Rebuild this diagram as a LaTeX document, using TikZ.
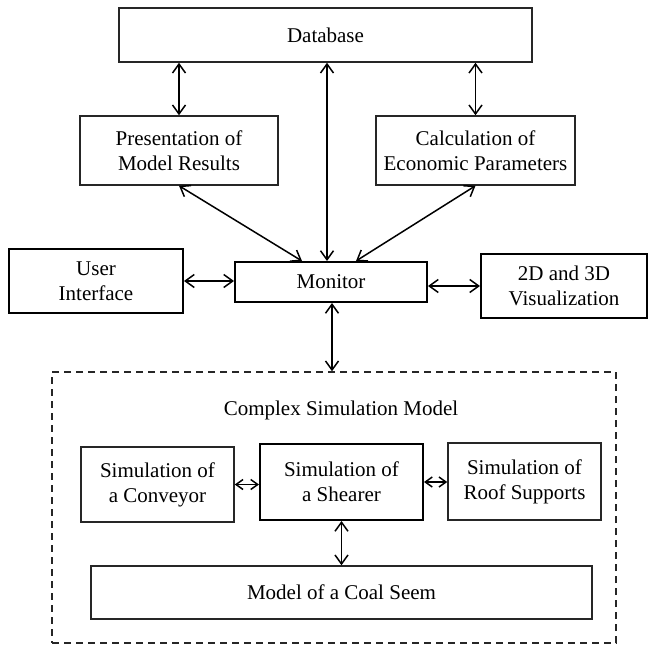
\documentclass[tikz,border=0pt]{standalone}
\usepackage{fontspec}
\setmainfont{Liberation Serif}
\usepackage{tikz}
\usetikzlibrary{arrows.meta}

\begin{document}
\begin{tikzpicture}[x=1pt, y=-1pt,
		font=\fontsize{21}{25}\selectfont,
		box/.style = {draw=black!85, line width=1.5pt, inner sep=0pt, align=center},
		boldbox/.style = {box, draw=black, line width=2pt},
		link/.style = {<->, >={Straight Barb[length=9pt, width=13pt]}, line width=1.5pt},
		smalllink/.style = {<->, >={Straight Barb[length=7pt, width=10pt]}, line width=1.5pt}]
			\useasboundingbox (0,0) rectangle (649,645);
		
			% upper part
			\node[box, minimum width=413, minimum height=54] (db) at (325.5,35) {Database};
			\node[box, minimum width=198, minimum height=69] (pres) at (179,150.5) {Presentation of\\Model Results};
			\node[box, minimum width=199, minimum height=69] (calc) at (475.5,150.5) {Calculation of\\Economic Parameters};
			
			\node[boldbox, minimum width=174, minimum height=64] (ui) at (96,281) {User\\Interface};
			\node[boldbox, minimum width=192, minimum height=40] (mon) at (331,282) {Monitor};
			\node[boldbox, minimum width=166, minimum height=64] (viz) at (564,286) {2D and 3D\\Visualization};
			
			\draw[link] (pres.north) -- (pres.north |- db.south);
			\draw[link] (calc.north) -- (calc.north |- db.south);
			\draw[link] ([xshift=-4pt]mon.north) -- ([xshift=-4pt]mon.north |- db.south);
			\draw[link] (pres.south) -- ([xshift=-29pt]mon.north);
			\draw[link] (calc.south) -- ([xshift=25pt]mon.north);
			\draw[link] (ui.east) -- (ui.east -| mon.west);
			\draw[link] (viz.west) -- (viz.west -| mon.east);
			
			% simulation model
			\node[draw=black!85, line width=1.5pt, dash pattern=on 7pt off 5pt,
				minimum width=564, minimum height=271, inner sep=0pt] (model) at (334,507.5) {};
			\node (title) at (341,410) {Complex Simulation Model};
			
			\node[box, minimum width=153, minimum height=75] (conv) at (157.5,484.5) {Simulation of\\a Conveyor};
			\node[boldbox, minimum width=163, minimum height=76] (shear) at (341.5,482) {Simulation of\\a Shearer};
			\node[box, minimum width=153, minimum height=77] (roof) at (524.5,481.5) {Simulation of\\Roof Supports};
			\node[box, minimum width=501, minimum height=53] (coal) at (341.5,592.5) {Model of a Coal Seem};
			
			\draw[link] ([xshift=1pt]mon.south) -- ([xshift=1pt]mon.south |- model.north);
			\draw[smalllink] (conv.east) -- (conv.east -| shear.west);
			\draw[smalllink] (shear.east) -- (shear.east -| roof.west);
			\draw[link] (shear.south) -- (coal.north);
		\end{tikzpicture}
\end{document}
